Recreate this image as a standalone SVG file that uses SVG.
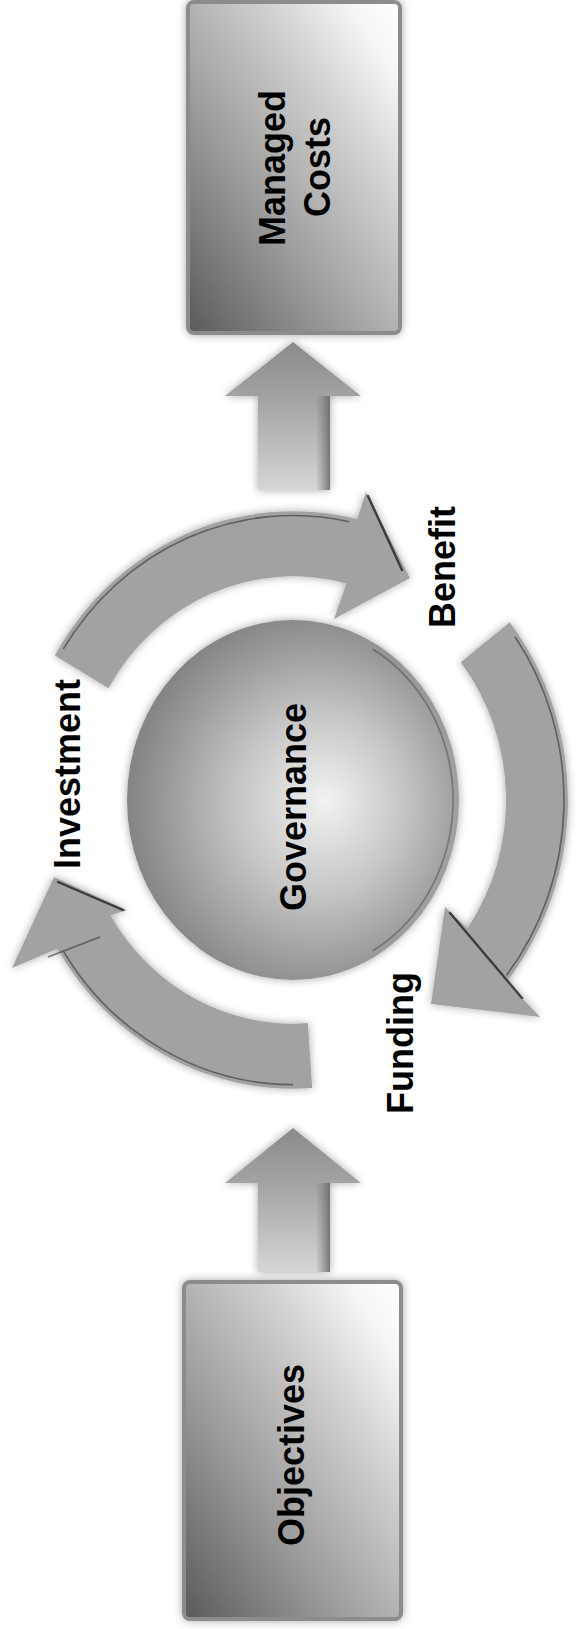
<svg xmlns="http://www.w3.org/2000/svg" width="576" height="1629" viewBox="0 0 576 1629">
<style>
.lbl{font-family:"Liberation Sans",Arial,sans-serif;font-weight:bold;font-size:36px;fill:#000;text-anchor:middle}
.box{stroke:#8c8c8c;stroke-width:4}
.ring{fill:#a2a2a2}
.edge{fill:none;stroke:#4a4a4a;stroke-width:1.6;stroke-opacity:0.75}
.crease{fill:none;stroke:#222;stroke-width:2.4;stroke-linecap:round;stroke-opacity:0.8}
.strip{fill:url(#stripGrad)}
</style>
<defs>
<filter id="soft" x="-15%" y="-15%" width="130%" height="130%">
<feGaussianBlur in="SourceAlpha" stdDeviation="4" result="b"/>
<feFlood flood-color="#000" flood-opacity="0.35"/>
<feComposite in2="b" operator="in" result="s"/>
<feGaussianBlur in="SourceGraphic" stdDeviation="0.7" result="g"/>
<feMerge><feMergeNode in="s"/><feMergeNode in="g"/></feMerge>
</filter>
<linearGradient id="boxGrad" x1="0" y1="1" x2="1" y2="0">
<stop offset="0" stop-color="#5a5a5a"/>
<stop offset="0.35" stop-color="#9a9a9a"/>
<stop offset="0.7" stop-color="#d4d4d4"/>
<stop offset="0.88" stop-color="#f6f6f6"/>
<stop offset="1" stop-color="#ffffff"/>
</linearGradient>
<radialGradient id="sphere" cx="0.56" cy="0.52" r="0.55" fx="0.6" fy="0.5">
<stop offset="0" stop-color="#f2f2f2"/>
<stop offset="0.45" stop-color="#c6c6c6"/>
<stop offset="0.8" stop-color="#9c9c9c"/>
<stop offset="1" stop-color="#858585"/>
</radialGradient>
<linearGradient id="arrowGrad" x1="0" y1="0" x2="0" y2="1">
<stop offset="0" stop-color="#8a8a8a"/>
<stop offset="0.45" stop-color="#a8a8a8"/>
<stop offset="1" stop-color="#d6d6d6"/>
</linearGradient>
<linearGradient id="stripGrad" x1="0" y1="0" x2="1" y2="0">
<stop offset="0" stop-color="#777" stop-opacity="0"/>
<stop offset="1" stop-color="#6a6a6a" stop-opacity="0.9"/>
</linearGradient>
<linearGradient id="ringGrad" x1="0" y1="0" x2="1" y2="1">
<stop offset="0" stop-color="#9a9a9a"/>
<stop offset="1" stop-color="#aaaaaa"/>
</linearGradient>
</defs>

<g id="connectors">
<g id="arrow-to-managed-costs" filter="url(#soft)">
<path d="M293,342 L361,396 L330,396 L330,490 L258,490 L258,396 L225,396 Z" fill="url(#arrowGrad)"/>
<rect class="strip" x="316" y="396" width="14" height="94"/>
</g>
<g id="arrow-from-objectives" filter="url(#soft)">
<path d="M293,1128 L361,1183 L330,1183 L330,1272 L258,1272 L258,1183 L225,1183 Z" fill="url(#arrowGrad)"/>
<rect class="strip" x="316" y="1183" width="14" height="89"/>
</g>
<g id="arc-investment-benefit" filter="url(#soft)">
<path class="ring" d="M54.8,655.6 A275,288.75 0 0 1 357.2,519.2 L366,492 L410,578 L334,619 L346.3,583.5 A213,223.65 0 0 0 108.5,688.2 Z"/>
<path class="edge" d="M63.2,649.2 A271,284.55 0 0 1 349.3,521.7"/>
<path class="crease" d="M368,496 L402,570"/>
</g>
<g id="arc-benefit-funding" filter="url(#soft)">
<path class="ring" d="M509.7,622.2 A275,288.75 0 0 1 506.7,981.7 L540,1017 L431,1004 L445,907 L467.5,928.3 A213,223.65 0 0 0 460.8,662.3 Z"/>
<path class="edge" d="M515,636.8 A271,284.55 0 0 1 506.5,975.2"/>
<path class="crease" d="M450,913 L522,998"/>
</g>
<g id="arc-funding-investment" filter="url(#soft)">
<path class="ring" d="M312.2,1088 A275,288.75 0 0 1 57.3,948.7 L12,968 L54,877 L127,910 L110.4,915.2 A213,223.65 0 0 0 307.9,1023.1 Z"/>
<path class="edge" d="M293,1084.6 A271,284.55 0 0 1 63.2,950.8"/>
<path class="crease" d="M58,882 L123,910"/>
<path class="edge" d="M48,957 L100,937"/>
</g>
<text class="lbl" transform="translate(80,774) rotate(-90)">Investment</text>
<text class="lbl" transform="translate(455,567) rotate(-90)">Benefit</text>
<text class="lbl" transform="translate(413,1043) rotate(-90)">Funding</text>
</g>

<g id="node-governance">
<ellipse cx="293" cy="800" rx="166" ry="180" fill="url(#sphere)" filter="url(#soft)"/>
<path d="M373,649.3 A160,174 0 0 1 373,950.7" fill="none" stroke="#555" stroke-width="1.6" stroke-opacity="0.6"/>
<text class="lbl" transform="translate(306,807) rotate(-90)">Governance</text>
</g>

<g id="node-managed-costs">
<rect class="box" x="188" y="2" width="212" height="331" rx="6" fill="url(#boxGrad)" filter="url(#soft)"/>
<text class="lbl" transform="translate(285,168) rotate(-90)">Managed</text>
<text class="lbl" transform="translate(330,167) rotate(-90)">Costs</text>
</g>

<g id="node-objectives">
<rect class="box" x="184" y="1282" width="217" height="337" rx="6" fill="url(#boxGrad)" filter="url(#soft)"/>
<text class="lbl" transform="translate(304,1455) rotate(-90)">Objectives</text>
</g>
</svg>
